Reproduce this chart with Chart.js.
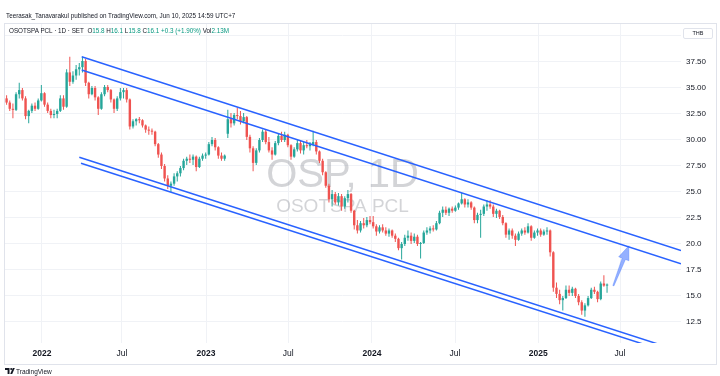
<!DOCTYPE html>
<html>
<head>
<meta charset="utf-8">
<script src="https://cdn.jsdelivr.net/npm/chart.js@4.4.1/dist/chart.umd.min.js"></script>
<style>
html, body { margin: 0; padding: 0; background: #fff; }
#wrap { position: relative; width: 720px; height: 376px; overflow: hidden; font-family: "Liberation Sans", Arial, sans-serif; }
#chart { position: absolute; left: 0; top: 0; }
.hd { position: absolute; white-space: nowrap; color: #131722; font-size: 6.3px; line-height: 7px; }
.up { color: #089981; }
#thb { position: absolute; left: 683px; top: 28px; width: 28px; height: 9px; border: 1px solid #e0e3eb; border-radius: 2px; font-size: 5.5px; line-height: 9px; text-align: center; color: #131722; background: #fff; }
</style>
</head>
<body>
<div id="wrap">
<canvas id="chart" width="720" height="376"></canvas>
<div class="hd" style="left:6px; top:12px;">Teerasak_Tanavarakul published on TradingView.com, Jun 10, 2025 14:59 UTC+7</div>
<div class="hd" style="left:9px; top:26.5px;">OSOTSPA PCL · 1D · SET&nbsp;&nbsp;O<span class="up">15.8</span> H<span class="up">16.1</span> L<span class="up">15.8</span> C<span class="up">16.1</span> <span class="up">+0.3 (+1.90%)</span> Vol<span class="up">2.13M</span></div>
<div id="thb">THB</div>
</div>
<script>
// weekly candles, Oct 2021 -> Jun 2025 (week index 0..190)
let opens = [
    34.0, 33.6, 33.0, 32.9, 34.4, 34.8, 34.0, 32.3, 32.8, 33.3,
    33.0, 33.8, 34.5, 33.4, 32.8, 32.4, 32.5, 32.8, 34.0, 33.2,
    36.5, 35.6, 36.2, 36.8, 37.0, 37.6, 35.5, 34.4, 35.0, 34.1,
    33.0, 34.4, 35.1, 34.8, 33.9, 33.0, 34.0, 34.6, 34.8, 33.9,
    31.3, 31.8, 32.0, 31.9, 31.4, 31.0, 30.9, 30.8, 29.6, 28.6,
    27.5, 26.3, 25.6, 25.8, 26.5, 26.8, 27.3, 28.0, 28.2, 28.1,
    28.4, 27.4, 28.2, 28.5, 28.6, 29.6, 30.0, 29.3, 28.5, 28.2,
    30.6, 32.0, 31.6, 32.4, 32.3, 31.8, 32.2, 30.3, 29.2, 27.8,
    29.0, 30.0, 30.8, 29.8, 29.0, 28.6, 29.7, 30.4, 30.0, 30.5,
    29.5, 28.4, 29.1, 29.7, 29.0, 29.5, 29.4, 29.6, 29.8, 28.9,
    28.0, 26.9, 25.6, 24.3, 24.8, 24.0, 24.6, 23.6, 24.4, 24.8,
    23.2, 21.8, 21.3, 22.0, 21.8, 22.3, 22.1, 21.7, 21.2, 21.6,
    21.3, 21.0, 21.3, 20.8, 20.5, 19.6, 20.0, 20.6, 20.8, 20.3,
    20.7, 20.0, 20.1, 21.1, 21.3, 21.5, 21.4, 22.0, 23.0, 23.3,
    23.0, 23.4, 23.2, 23.5, 23.9, 24.3, 23.8, 24.0, 23.5, 22.3,
    22.8, 22.9, 23.6, 23.8, 23.6, 22.9, 23.2, 22.6, 22.0, 20.9,
    21.3, 20.8, 20.4, 21.0, 21.3, 21.1, 21.7, 20.6, 21.1, 21.3,
    20.9, 21.2, 21.3, 19.2, 15.8, 15.2, 14.6, 14.8, 15.6, 15.3,
    15.7, 15.0, 14.4, 13.6, 14.1, 14.8, 15.6, 15.4, 14.7, 16.2, 16.0
];
let highs = [
    34.3, 33.8, 33.5, 34.6, 35.5, 35.0, 34.2, 32.9, 33.5, 33.6,
    34.0, 35.3, 34.6, 33.6, 33.0, 32.9, 33.0, 34.3, 34.3, 36.8,
    38.0, 36.6, 37.2, 37.4, 38.0, 37.8, 35.6, 35.2, 35.2, 34.2,
    34.6, 35.3, 35.3, 34.9, 34.0, 34.2, 35.0, 35.0, 35.0, 34.0,
    32.0, 32.1, 32.2, 32.0, 31.5, 31.3, 31.1, 30.9, 29.7, 28.8,
    27.7, 26.6, 26.0, 26.8, 27.0, 27.5, 28.2, 28.4, 28.6, 28.6,
    28.5, 28.4, 28.7, 28.8, 29.8, 30.3, 30.2, 29.4, 28.8, 28.6,
    32.9, 32.6, 32.6, 33.1, 32.8, 32.6, 32.3, 30.5, 29.4, 29.2,
    30.2, 31.0, 31.0, 30.3, 29.3, 29.9, 30.6, 30.8, 30.8, 30.6,
    29.6, 29.3, 30.0, 29.9, 29.8, 30.0, 29.8, 30.9, 30.0, 29.0,
    28.2, 27.0, 25.8, 25.2, 25.0, 24.9, 24.8, 24.6, 25.2, 24.9,
    23.3, 22.3, 22.2, 22.5, 22.6, 22.7, 22.7, 21.9, 21.8, 21.9,
    21.6, 21.5, 21.4, 21.0, 20.6, 20.2, 20.9, 21.3, 21.1, 21.0,
    20.9, 20.2, 21.3, 21.6, 21.7, 21.8, 22.2, 23.2, 23.6, 23.6,
    23.5, 23.6, 23.7, 24.0, 24.9, 24.4, 24.3, 24.1, 23.6, 23.0,
    23.3, 23.8, 24.2, 24.2, 23.8, 23.4, 23.3, 22.8, 22.1, 21.5,
    21.5, 21.0, 21.2, 21.5, 21.6, 22.0, 21.8, 21.3, 21.5, 21.5,
    21.4, 21.6, 21.4, 19.3, 16.3, 15.6, 15.0, 16.0, 16.0, 15.9,
    15.8, 15.2, 14.6, 14.3, 15.0, 15.8, 15.9, 15.5, 16.4, 17.0, 16.2
];
let lows = [
    33.4, 32.8, 32.1, 32.8, 34.0, 33.8, 32.0, 31.6, 32.6, 32.8,
    32.9, 33.7, 33.2, 32.6, 32.1, 32.1, 32.1, 32.7, 32.9, 33.1,
    35.2, 35.4, 35.8, 36.2, 36.5, 35.2, 34.0, 34.3, 33.8, 32.4,
    32.9, 34.2, 34.6, 33.6, 32.6, 32.8, 33.8, 34.0, 33.6, 31.0,
    31.1, 31.4, 31.6, 31.2, 30.7, 30.5, 30.5, 29.4, 28.3, 27.2,
    26.0, 25.3, 25.0, 25.6, 26.0, 26.5, 27.1, 27.6, 27.8, 27.6,
    27.0, 27.3, 28.0, 28.2, 28.5, 29.4, 29.0, 28.2, 28.0, 28.0,
    30.2, 31.2, 31.4, 32.0, 31.5, 31.6, 30.0, 28.8, 27.0, 27.6,
    28.8, 29.8, 29.6, 28.8, 28.1, 28.5, 29.5, 29.8, 29.8, 29.3,
    28.1, 28.3, 28.9, 28.7, 28.6, 29.2, 29.0, 29.4, 28.6, 27.8,
    26.6, 25.4, 24.0, 23.6, 23.8, 23.7, 23.2, 23.4, 24.0, 23.0,
    21.4, 21.0, 21.1, 21.5, 21.6, 21.9, 21.5, 20.8, 21.0, 21.1,
    20.8, 20.7, 20.6, 20.2, 19.4, 18.5, 19.8, 20.3, 20.0, 20.1,
    19.8, 18.6, 20.0, 20.9, 21.0, 21.2, 21.3, 21.9, 22.6, 22.8,
    22.7, 23.0, 23.1, 23.3, 23.8, 23.5, 23.5, 23.3, 22.0, 22.0,
    20.6, 22.7, 23.2, 23.4, 22.6, 22.5, 22.4, 21.8, 20.6, 20.4,
    20.5, 19.8, 20.3, 20.8, 20.9, 21.0, 20.3, 20.5, 20.8, 20.7,
    20.8, 20.9, 18.8, 15.4, 14.8, 14.2, 13.6, 14.7, 15.0, 15.0,
    14.8, 14.1, 13.2, 13.0, 14.0, 14.7, 15.2, 14.4, 14.6, 15.9, 15.3
];
let closes = [
    33.6, 33.0, 32.9, 34.4, 34.8, 34.0, 32.3, 32.8, 33.3, 33.0,
    33.8, 34.5, 33.4, 32.8, 32.4, 32.5, 32.8, 34.0, 33.2, 36.5,
    35.6, 36.2, 36.8, 37.0, 37.6, 35.5, 34.4, 35.0, 34.1, 33.0,
    34.4, 35.1, 34.8, 33.9, 33.0, 34.0, 34.6, 34.8, 33.9, 31.3,
    31.8, 32.0, 31.9, 31.4, 31.0, 30.9, 30.8, 29.6, 28.6, 27.5,
    26.3, 25.6, 25.8, 26.5, 26.8, 27.3, 28.0, 28.2, 28.1, 28.4,
    27.4, 28.2, 28.5, 28.6, 29.6, 30.0, 29.3, 28.5, 28.2, 28.5,
    32.0, 31.6, 32.4, 32.3, 31.8, 32.2, 30.3, 29.2, 27.8, 29.0,
    30.0, 30.8, 29.8, 29.0, 28.6, 29.7, 30.4, 30.0, 30.5, 29.5,
    28.4, 29.1, 29.7, 29.0, 29.5, 29.4, 29.6, 29.8, 28.9, 28.0,
    26.9, 25.6, 24.3, 24.8, 24.0, 24.6, 23.6, 24.4, 24.8, 23.2,
    21.8, 21.3, 22.0, 21.8, 22.3, 22.1, 21.7, 21.2, 21.6, 21.3,
    21.0, 21.3, 20.8, 20.5, 19.6, 20.0, 20.6, 20.8, 20.3, 20.7,
    20.0, 20.1, 21.1, 21.3, 21.5, 21.4, 22.0, 23.0, 23.3, 23.0,
    23.4, 23.2, 23.5, 23.9, 24.3, 23.8, 24.0, 23.5, 22.3, 22.8,
    22.9, 23.6, 23.8, 23.6, 22.9, 23.2, 22.6, 22.0, 20.9, 21.3,
    20.8, 20.4, 21.0, 21.3, 21.1, 21.7, 20.6, 21.1, 21.3, 20.9,
    21.2, 21.3, 19.2, 15.8, 15.2, 14.6, 14.8, 15.6, 15.3, 15.7,
    15.0, 14.4, 13.6, 14.1, 14.8, 15.6, 15.4, 14.7, 16.2, 16.0, 16.1
];

// time axis ticks (week index) and labels
let timeTickPos = [11.2, 36.5, 63.1, 89.1, 115.6, 141.9, 168.2, 194.1];
let timeTickLabels = ["2022", "Jul", "2023", "Jul", "2024", "Jul", "2025", "Jul"];
// price axis
let priceTicks = [12.5, 15, 17.5, 20, 22.5, 25, 27.5, 30, 32.5, 35, 37.5, 40];
let priceLabels = ["12.5", "15.0", "17.5", "20.0", "22.5", "25.0", "27.50", "30.00", "32.50", "35.00", "37.50", ""];

// drawn channel lines [weekIndex, price]
let channelTop1 = [[23.77, 38.01], [213.4, 19.38]];
let channelTop2 = [[23.77, 36.73], [213.4, 18.10]];
let channelLow1 = [[23.0, 28.34], [210.0, 10.0]];
let channelLow2 = [[23.54, 27.76], [205.3, 10.0]];
let arrowFrom = [192.0, 15.99];
let arrowTo = [196.9, 19.83];

let wmTitle = "OSP, 1D",
    wmName = "OSOTSPA PCL";

let upColor = "#26a69a",
    downColor = "#ef5350";
let candleColors = closes.map((c, i) => c >= opens[i] ? upColor : downColor);

function toXY(arr) {
    return arr.map(p => ({ x: p[0], y: p[1] }));
}

function lineSet(arr) {
    return {
        type: "line",
        data: toXY(arr),
        borderColor: "#2962ff",
        borderWidth: 1.5,
        pointRadius: 0,
        tension: 0,
        order: 0
    };
}

const watermark = {
    id: "watermark",
    beforeDatasetsDraw(chart) {
        const { ctx, chartArea: a } = chart;
        const cx = (a.left + a.right) / 2;
        ctx.save();
        ctx.fillStyle = "rgba(120,123,134,0.33)";
        ctx.textAlign = "center";
        ctx.textBaseline = "alphabetic";
        ctx.font = '40px "Liberation Sans", Arial, sans-serif';
        ctx.fillText(wmTitle, cx, 187);
        ctx.font = '19px "Liberation Sans", Arial, sans-serif';
        ctx.fillText(wmName, cx, 212);
        ctx.restore();
    }
};

const arrow = {
    id: "arrow",
    afterDatasetsDraw(chart) {
        const { ctx, scales: { x, y } } = chart;
        const x0 = x.getPixelForValue(arrowFrom[0]), y0 = y.getPixelForValue(arrowFrom[1]);
        const x1 = x.getPixelForValue(arrowTo[0]), y1 = y.getPixelForValue(arrowTo[1]);
        const len = Math.hypot(x1 - x0, y1 - y0);
        const ux = (x1 - x0) / len, uy = (y1 - y0) / len;
        const nx = -uy, ny = ux;
        const head = 14;
        const bx = x1 - ux * head, by = y1 - uy * head;
        ctx.save();
        ctx.beginPath();
        ctx.moveTo(x0 + nx * 0.6, y0 + ny * 0.6);
        ctx.lineTo(bx + nx * 1.8, by + ny * 1.8);
        ctx.lineTo(bx + nx * 5.5, by + ny * 5.5);
        ctx.lineTo(x1, y1);
        ctx.lineTo(bx - nx * 5.5, by - ny * 5.5);
        ctx.lineTo(bx - nx * 1.8, by - ny * 1.8);
        ctx.lineTo(x0 - nx * 0.6, y0 - ny * 0.6);
        ctx.closePath();
        ctx.fillStyle = "rgba(41,98,255,0.5)";
        ctx.fill();
        ctx.strokeStyle = "rgba(41,98,255,0.35)";
        ctx.lineWidth = 0.8;
        ctx.stroke();
        ctx.restore();
    }
};

const frame = {
    id: "frame",
    afterDraw(chart) {
        const ctx = chart.ctx;
        ctx.save();
        ctx.strokeStyle = "#e0e3eb";
        ctx.lineWidth = 1;
        ctx.strokeRect(4.5, 23.5, 712, 341);
        // tradingview mark
        ctx.fillStyle = "#131722";
        ctx.beginPath();
        ctx.moveTo(5, 368);
        ctx.lineTo(9.5, 368);
        ctx.lineTo(9.5, 374);
        ctx.lineTo(7.6, 374);
        ctx.lineTo(7.6, 370);
        ctx.lineTo(5, 370);
        ctx.closePath();
        ctx.fill();
        ctx.beginPath();
        ctx.arc(11.2, 369, 1, 0, Math.PI * 2);
        ctx.fill();
        ctx.beginPath();
        ctx.moveTo(12.8, 368);
        ctx.lineTo(14.8, 368);
        ctx.lineTo(12.2, 374);
        ctx.lineTo(10.2, 374);
        ctx.closePath();
        ctx.fill();
        ctx.font = '6.5px "Liberation Sans", Arial, sans-serif';
        ctx.textBaseline = "alphabetic";
        ctx.fillText("TradingView", 16, 374);
        ctx.restore();
    }
};

let chart;
function makeChart() {
    const ctx = document.getElementById("chart").getContext("2d");
    chart = new Chart(ctx, {
        type: "bar",
        data: {
            datasets: [
                lineSet(channelTop1),
                lineSet(channelTop2),
                lineSet(channelLow1),
                lineSet(channelLow2),
                {
                    data: closes.map((c, i) => ({ x: i, y: [Math.min(opens[i], c), Math.max(opens[i], c)] })),
                    backgroundColor: candleColors,
                    grouped: false,
                    barPercentage: 0.95,
                    maxBarThickness: 2.8,
                    minBarLength: 1,
                    inflateAmount: 0,
                    order: 1
                },
                {
                    data: closes.map((c, i) => ({ x: i, y: [lows[i], highs[i]] })),
                    backgroundColor: candleColors,
                    grouped: false,
                    maxBarThickness: 1,
                    inflateAmount: 0,
                    order: 2
                }
            ]
        },
        options: {
            responsive: false,
            animation: false,
            devicePixelRatio: 1,
            layout: { padding: { left: 4, top: 23, right: 4, bottom: 12 } },
            plugins: { legend: { display: false }, tooltip: { enabled: false } },
            scales: {
                x: {
                    type: "linear",
                    min: -0.82,
                    max: 213.4,
                    offset: false,
                    afterFit: s => { s.height = 21; },
                    afterBuildTicks: s => { s.ticks = timeTickPos.map(v => ({ value: v })); },
                    grid: { color: "#f0f2f6", drawTicks: false, offset: false },
                    border: { display: false },
                    ticks: {
                        autoSkip: false,
                        maxRotation: 0,
                        padding: 6,
                        color: "#131722",
                        font: c => ({ family: '"Liberation Sans", Arial, sans-serif', size: 8.5, weight: c.index % 2 === 0 ? "bold" : "normal" }),
                        callback: (v, i) => timeTickLabels[i]
                    }
                },
                y: {
                    type: "linear",
                    position: "right",
                    min: 10.48,
                    max: 41.25,
                    beginAtZero: false,
                    afterFit: s => { s.width = 35; },
                    afterBuildTicks: s => { s.ticks = priceTicks.map(v => ({ value: v })); },
                    grid: { color: "#f0f2f6", drawTicks: false },
                    border: { display: false },
                    ticks: {
                        padding: 5,
                        color: "#131722",
                        font: { family: '"Liberation Sans", Arial, sans-serif', size: 8 },
                        callback: v => {
                            const k = priceTicks.indexOf(v);
                            return k >= 0 ? priceLabels[k] : "";
                        }
                    }
                }
            }
        },
        plugins: [watermark, arrow, frame]
    });
}

makeChart();
</script>
</body>
</html>
